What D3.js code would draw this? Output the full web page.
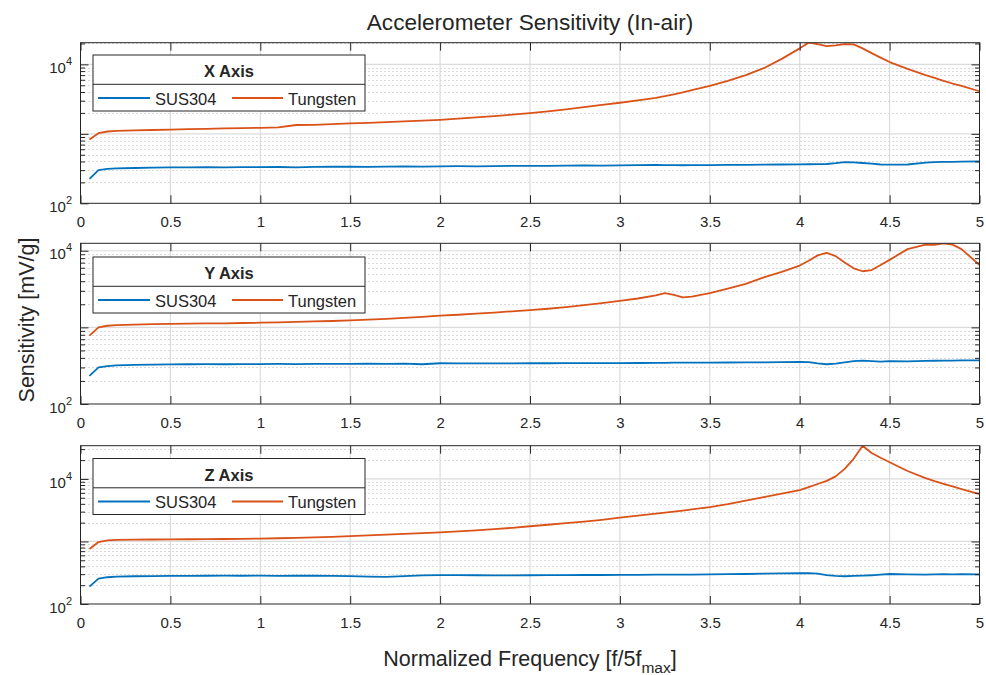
<!DOCTYPE html>
<html><head><meta charset="utf-8">
<script src="https://cdn.jsdelivr.net/npm/d3@7"></script>
<style>
body{margin:0;background:#fff}
text{font-family:"Liberation Sans",Arial,Helvetica,sans-serif;fill:#262626}
</style>
</head><body><svg id="c" width="986" height="675"></svg>
<script>
// ---------------- DATA ----------------
const freq = [0.05,0.1,0.15,0.2,0.3,0.4,0.5,0.6,0.7,0.8,0.9,1.0,1.1,1.2,1.3,1.4,1.5,1.6,1.7,1.8,1.9,2.0,2.1,2.2,2.3,2.4,2.5,2.6,2.7,2.8,2.9,3.0,3.1,3.2,3.25,3.3,3.35,3.4,3.5,3.6,3.7,3.8,3.9,4.0,4.05,4.1,4.15,4.2,4.25,4.3,4.35,4.4,4.45,4.5,4.6,4.7,4.75,4.8,4.85,4.9,5.0];
const xTicks = [0,0.5,1,1.5,2,2.5,3,3.5,4,4.5,5];
const yLabelTicks = [100,10000];
const panelTitles = ["X Axis","Y Axis","Z Axis"];
const seriesNames = ["SUS304","Tungsten"];

const sus304X = [225,300,312,318,322,326,330,328,331,329,332,331,333,330,334,336,338,335,337,340,338,341,342,340,344,345,346,345,348,350,349,352,354,356,355,354,353,354,355,357,358,360,362,363,365,366,368,378,392,388,380,372,362,360,362,385,392,394,396,398,402];
const tungstenX = [830,1020,1080,1100,1120,1135,1150,1165,1180,1195,1205,1220,1240,1340,1350,1380,1410,1440,1470,1510,1550,1590,1650,1720,1800,1890,1985,2100,2250,2430,2620,2800,3020,3300,3480,3700,3950,4250,4900,5800,7000,8800,12000,17000,20500,19500,18300,18700,19500,19400,17000,14500,12500,10800,8600,7000,6400,5800,5300,4900,4100];

const sus304Y = [233,300,312,320,324,327,329,330,331,330,332,332,333,332,333,334,334,335,334,336,330,340,338,338,339,339,340,340,341,341,342,342,343,344,345,346,346,346,347,348,349,350,352,355,352,338,330,336,350,362,368,362,358,362,360,366,367,368,369,370,372];
const tungstenY = [780,1000,1050,1070,1085,1100,1110,1120,1125,1130,1140,1150,1165,1180,1195,1210,1230,1260,1290,1330,1370,1420,1460,1510,1560,1620,1680,1750,1840,1950,2070,2210,2380,2620,2800,2650,2460,2520,2800,3200,3700,4500,5300,6400,7400,8700,9400,8500,7000,5900,5400,5600,6500,7600,10500,12000,11900,12500,12000,10500,6500];

const sus304Z = [190,255,268,275,278,280,282,281,283,284,283,284,282,285,283,282,280,274,272,280,286,290,289,288,287,286,288,289,290,291,291,292,293,294,294,295,294,296,298,300,302,305,308,310,312,305,290,282,278,282,284,288,296,302,298,295,298,300,298,299,298];
const tungstenZ = [760,980,1040,1060,1070,1075,1080,1085,1090,1095,1100,1110,1125,1140,1160,1180,1215,1250,1290,1320,1360,1400,1450,1510,1570,1650,1750,1850,1960,2080,2220,2400,2580,2780,2890,3000,3120,3250,3550,3950,4500,5100,5800,6600,7400,8300,9300,11000,14500,21000,34000,26000,21800,18500,13400,10300,9200,8350,7600,6900,5700];

// ---------------- LAYOUT ----------------
const svg = d3.select("#c");
const left = 80.5, right = 979.5;
const panelTops = [42.7, 243.3, 445.7];
const panelBottoms = [203.3, 404, 604];
const legendTops = [55, 257, 458.5];
const colors = ["#0072BD", "#D95319"];
const ink = "#262626";
const FONT = '"Liberation Sans",Arial,Helvetica,sans-serif';

const x = d3.scaleLinear().domain([0, 5]).range([left, right]);
const datasets = [[sus304X, tungstenX], [sus304Y, tungstenY], [sus304Z, tungstenZ]];

datasets.forEach((pair, i) => {
  const top = panelTops[i], bot = panelBottoms[i];
  const ymax = d3.max(pair.flat());
  const y = d3.scaleLog().domain([100, ymax]).range([bot, top]);
  const g = svg.append("g");

  const clipId = "clip" + i;
  svg.append("clipPath").attr("id", clipId).append("rect")
    .attr("x", left).attr("y", top).attr("width", right - left).attr("height", bot - top);

  const major = [], minor = [];
  for (let d = 2; d <= 5; d++) for (let k = 1; k <= 9; k++) {
    const v = k * Math.pow(10, d);
    if (v >= 100 && v <= ymax) (k === 1 ? major : minor).push(v);
  }

  // minor grid (dotted)
  g.selectAll(".mg").data(minor).join("line")
    .attr("x1", left).attr("x2", right)
    .attr("y1", d => Math.round(y(d)) + 0.5).attr("y2", d => Math.round(y(d)) + 0.5)
    .attr("stroke", "#b4b4b4").attr("stroke-width", 1).attr("stroke-dasharray", "1,3");
  // major grid
  g.selectAll(".Mg").data(major.filter(v => v > 100)).join("line")
    .attr("x1", left).attr("x2", right)
    .attr("y1", d => y(d)).attr("y2", d => y(d))
    .attr("stroke", "#dcdcdc").attr("stroke-width", 1.2);
  g.selectAll(".xg").data(xTicks.slice(1, -1)).join("line")
    .attr("x1", d => x(d)).attr("x2", d => x(d))
    .attr("y1", top).attr("y2", bot)
    .attr("stroke", "#dcdcdc").attr("stroke-width", 1.2);

  // series
  const line = d3.line().x((d, j) => x(freq[j])).y(d => y(d));
  pair.forEach((vals, s) => {
    g.append("path").datum(vals).attr("d", line)
      .attr("fill", "none").attr("stroke", colors[s]).attr("stroke-width", 1.8)
      .attr("stroke-linejoin", "round").attr("clip-path", `url(#${clipId})`);
  });

  // axes
  const styleAxis = sel => { sel.select(".domain").remove(); sel.selectAll("line").attr("stroke", ink); };
  const bx = g.append("g").attr("transform", `translate(0,${bot})`)
    .call(d3.axisBottom(x).tickValues(xTicks).tickSize(-8).tickPadding(13.5).tickFormat(d3.format("")));
  styleAxis(bx);
  bx.selectAll("text").attr("font-family", FONT).attr("font-size", 15).attr("fill", ink);
  const tx = g.append("g").attr("transform", `translate(0,${top})`)
    .call(d3.axisTop(x).tickValues(xTicks).tickSize(-8).tickFormat(""));
  styleAxis(tx);
  [[d3.axisLeft, left], [d3.axisRight, right]].forEach(([ax, pos]) => {
    const a1 = g.append("g").attr("transform", `translate(${pos},0)`)
      .call(ax(y).tickValues(major).tickSize(-8).tickFormat(""));
    styleAxis(a1);
    const a2 = g.append("g").attr("transform", `translate(${pos},0)`)
      .call(ax(y).tickValues(minor).tickSize(-4.5).tickFormat(""));
    styleAxis(a2);
  });

  // y tick labels 10^n
  yLabelTicks.forEach(v => {
    const t = g.append("text").attr("x", left - 8.5).attr("y", y(v) + 8.7)
      .attr("text-anchor", "end").attr("font-size", 15);
    t.append("tspan").text("10");
    t.append("tspan").attr("dy", -8).attr("font-size", 11).text(String(Math.round(Math.log10(v))));
  });

  // box
  g.append("rect").attr("x", left).attr("y", top).attr("width", right - left).attr("height", bot - top)
    .attr("fill", "none").attr("stroke", ink).attr("stroke-width", 1);

  // legend
  const lt = legendTops[i], ll = 93, lw = 272, lh = 56;
  const lg = g.append("g");
  lg.append("rect").attr("x", ll).attr("y", lt).attr("width", lw).attr("height", lh)
    .attr("fill", "#fff").attr("stroke", ink).attr("stroke-width", 1);
  lg.append("line").attr("x1", ll).attr("x2", ll + lw).attr("y1", lt + 29.3).attr("y2", lt + 29.3)
    .attr("stroke", ink).attr("stroke-width", 1);
  lg.append("text").attr("x", ll + lw / 2).attr("y", lt + 22.3).attr("text-anchor", "middle")
    .attr("font-size", 16.5).attr("font-weight", "bold").text(panelTitles[i]);
  const itemX = [[98, 150, 155], [232, 283, 288]];
  seriesNames.forEach((nm, s) => {
    lg.append("line").attr("x1", itemX[s][0]).attr("x2", itemX[s][1])
      .attr("y1", lt + 43).attr("y2", lt + 43).attr("stroke", colors[s]).attr("stroke-width", 1.8);
    lg.append("text").attr("x", itemX[s][2]).attr("y", lt + 49.5).attr("font-size", 16.5).text(nm);
  });
});

// titles
svg.append("text").attr("x", 530).attr("y", 29.5).attr("text-anchor", "middle")
  .attr("font-size", 22.6).text("Accelerometer Sensitivity (In-air)");
const xl = svg.append("text").attr("x", 530).attr("y", 665.5).attr("text-anchor", "middle").attr("font-size", 21.5);
xl.append("tspan").text("Normalized Frequency [f/5f");
xl.append("tspan").attr("dy", 7).attr("font-size", 15.5).text("max");
xl.append("tspan").attr("dy", -7).text("]");
svg.append("text").attr("transform", "translate(33.5,320) rotate(-90)").attr("text-anchor", "middle")
  .attr("font-size", 21.5).text("Sensitivity [mV/g]");
</script></body></html>
